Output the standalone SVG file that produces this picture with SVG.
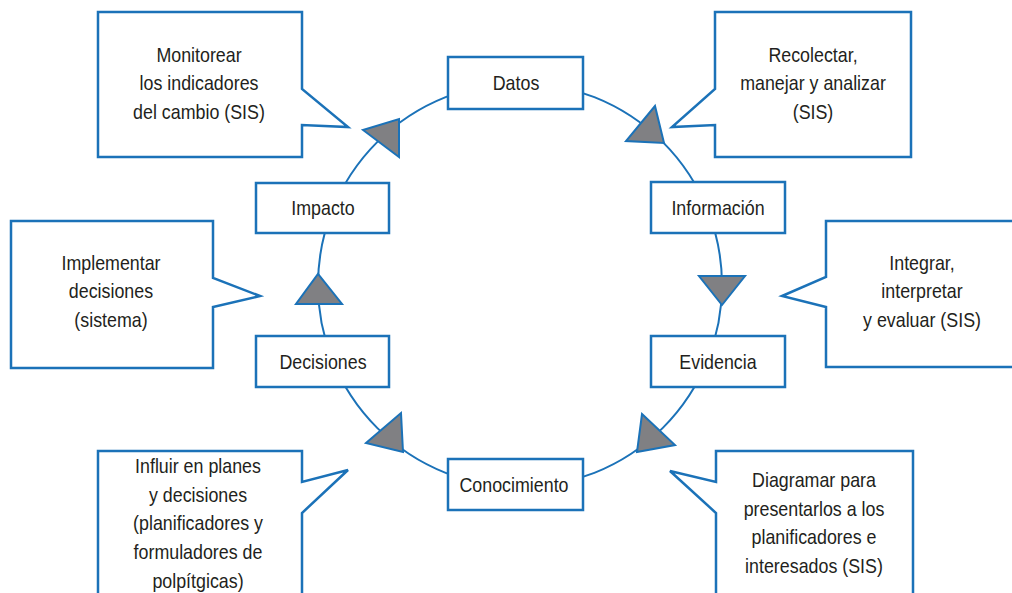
<svg xmlns="http://www.w3.org/2000/svg" width="1012" height="593" viewBox="0 0 1012 593">
  <style>
    .ring { fill: none; stroke: #1b72b8; stroke-width: 2; }
    .arrow { fill: #808083; stroke: #1b72b8; stroke-width: 2; stroke-linejoin: miter; }
    .node { fill: #ffffff; stroke: #1b72b8; stroke-width: 2.5; }
    .callout { fill: #ffffff; stroke: #1b72b8; stroke-width: 2.5; stroke-linejoin: miter; }
    text { font-family: "Liberation Sans", Arial, sans-serif; font-size: 21px; fill: #231f20; text-anchor: middle; }
  </style>
  <rect width="1012" height="593" fill="#ffffff"/>

  <!-- cycle ring with direction markers -->
  <g id="connectors">
    <circle class="ring" cx="520" cy="285" r="202"/>
    <polygon class="arrow" points="363,130 399,119 399,157"/>
    <polygon class="arrow" points="655,106 626,141 664,143"/>
    <polygon class="arrow" points="699,276 745,276 722,305"/>
    <polygon class="arrow" points="642,414 675,445 637,452"/>
    <polygon class="arrow" points="401,413 403,452 366,443"/>
    <polygon class="arrow" points="296,304 342,304 318,274"/>
  </g>

  <!-- cycle stages -->
  <g id="node-datos">
    <rect class="node" x="448" y="57" width="135" height="52"/>
    <text transform="translate(516,90) scale(0.85,1)">Datos</text>
  </g>
  <g id="node-informacion">
    <rect class="node" x="651" y="182" width="134" height="51"/>
    <text transform="translate(718,215) scale(0.85,1)">Información</text>
  </g>
  <g id="node-evidencia">
    <rect class="node" x="651" y="336" width="134" height="51"/>
    <text transform="translate(718,369) scale(0.85,1)">Evidencia</text>
  </g>
  <g id="node-conocimiento">
    <rect class="node" x="448" y="459" width="135" height="51"/>
    <text transform="translate(514,492) scale(0.85,1)">Conocimiento</text>
  </g>
  <g id="node-decisiones">
    <rect class="node" x="256" y="336" width="133" height="51"/>
    <text transform="translate(323,369) scale(0.85,1)">Decisiones</text>
  </g>
  <g id="node-impacto">
    <rect class="node" x="256" y="183" width="133" height="50"/>
    <text transform="translate(323,215) scale(0.85,1)">Impacto</text>
  </g>

  <!-- speech-bubble annotations -->
  <g id="callout-monitorear">
    <path class="callout" d="M98,12 H302 V89 L348,127 L302,125 V157 H98 Z"/>
    <text transform="translate(199,62) scale(0.85,1)"><tspan x="0">Monitorear</tspan><tspan x="0" dy="28.5">los indicadores</tspan><tspan x="0" dy="28.5">del cambio (SIS)</tspan></text>
  </g>
  <g id="callout-recolectar">
    <path class="callout" d="M715,12 H911 V157 H715 V125 L672,127 L715,89 Z"/>
    <text transform="translate(813,62) scale(0.85,1)"><tspan x="0">Recolectar,</tspan><tspan x="0" dy="28.5">manejar y analizar</tspan><tspan x="0" dy="28.5">(SIS)</tspan></text>
  </g>
  <g id="callout-implementar">
    <path class="callout" d="M11,221 H213 V278 L260,296 L213,307 V368 H11 Z"/>
    <text transform="translate(111,270) scale(0.85,1)"><tspan x="0">Implementar</tspan><tspan x="0" dy="28.5">decisiones</tspan><tspan x="0" dy="28.5">(sistema)</tspan></text>
  </g>
  <g id="callout-integrar">
    <path class="callout" d="M826,221 H1030 V367 H826 V307 L782,296 L826,277 Z"/>
    <text transform="translate(922,270) scale(0.85,1)"><tspan x="0">Integrar,</tspan><tspan x="0" dy="28.5">interpretar</tspan><tspan x="0" dy="28.5">y evaluar (SIS)</tspan></text>
  </g>
  <g id="callout-influir">
    <path class="callout" d="M98,610 V451 H302 V482 L348,470 L302,513 V610"/>
    <text transform="translate(198,473) scale(0.85,1)"><tspan x="0">Influir en planes</tspan><tspan x="0" dy="28.7">y decisiones</tspan><tspan x="0" dy="28.7">(planificadores y</tspan><tspan x="0" dy="28.7">formuladores de</tspan><tspan x="0" dy="28.7">polpítgicas)</tspan></text>
  </g>
  <g id="callout-diagramar">
    <path class="callout" d="M716,610 V513 L670,471 L716,482 V451 H913 V610"/>
    <text transform="translate(814,487) scale(0.85,1)"><tspan x="0">Diagramar para</tspan><tspan x="0" dy="28.7">presentarlos a los</tspan><tspan x="0" dy="28.7">planificadores e</tspan><tspan x="0" dy="28.7">interesados (SIS)</tspan></text>
  </g>
</svg>
